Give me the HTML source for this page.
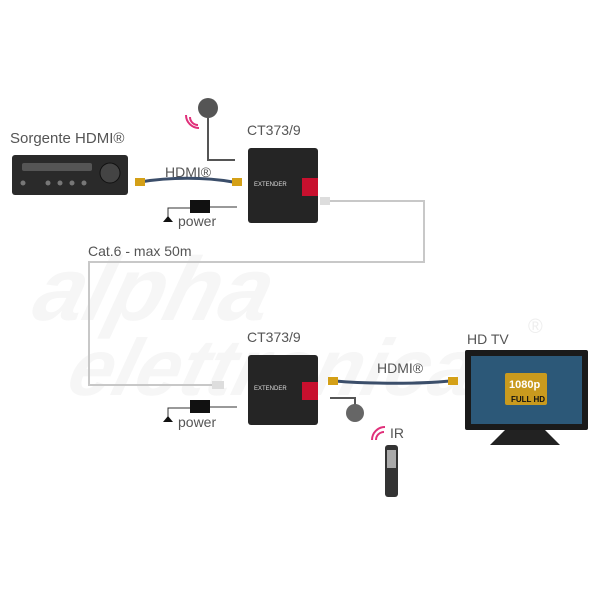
<!DOCTYPE html>
<html><head><style>body{margin:0;background:#fff}svg{display:block}</style></head><body>
<svg width="600" height="600" viewBox="0 0 600 600" font-family="Liberation Sans, sans-serif">
<rect width="600" height="600" fill="#fff"/>
<g fill="#f6f6f6" font-style="italic" font-weight="bold">
<text x="115" y="320" font-size="90" transform="skewX(-15)">alpha</text>
<text x="170" y="395" font-size="80" transform="skewX(-15)">elettronica</text>
</g>
<!-- cat6 loop -->
<polyline points="330,201 424,201 424,262 89,262 89,385 215,385" fill="none" stroke="#c8c8c8" stroke-width="2"/>
<text x="88" y="256" font-size="14" fill="#555">Cat.6 - max 50m</text>
<!-- source -->
<text x="10" y="143" font-size="15" fill="#555">Sorgente HDMI®</text>
<rect x="12" y="155" width="116" height="40" rx="3" fill="#2a2a2a"/>
<rect x="22" y="163" width="70" height="8" rx="2" fill="#555"/>
<circle cx="110" cy="173" r="10" fill="#444" stroke="#111"/>
<g fill="#777"><circle cx="23" cy="183" r="2.5"/><circle cx="48" cy="183" r="2.5"/><circle cx="60" cy="183" r="2.5"/><circle cx="72" cy="183" r="2.5"/><circle cx="84" cy="183" r="2.5"/></g>
<!-- top hdmi -->
<text x="165" y="177" font-size="14" fill="#555">HDMI®</text>
<path d="M140,182 C170,177 205,177 233,182" stroke="#3b4e6a" stroke-width="3" fill="none"/>
<rect x="135" y="178" width="10" height="8" fill="#d4a017"/><rect x="232" y="178" width="10" height="8" fill="#d4a017"/>
<!-- top mic -->
<circle cx="208" cy="108" r="10" fill="#555"/>
<polyline points="208,118 208,160 235,160" fill="none" stroke="#555" stroke-width="2"/>
<path d="M190,117 a8,8 0 0 0 8,8 M186,115 a13,13 0 0 0 13,13" stroke="#e0307a" stroke-width="2" fill="none"/>
<!-- top power -->
<rect x="190" y="200" width="20" height="13" fill="#111"/>
<polyline points="168,218 168,208 190,208" fill="none" stroke="#333"/><line x1="210" y1="207" x2="237" y2="207" stroke="#333"/>
<path d="M163,222 l5,-6 l5,6z" fill="#111"/>
<text x="178" y="226" font-size="14" fill="#555">power</text>
<!-- top box -->
<text x="247" y="135" font-size="14" fill="#555">CT373/9</text>
<rect x="248" y="148" width="70" height="75" rx="3" fill="#252525"/>
<text x="254" y="186" font-size="6" fill="#ddd">EXTENDER</text>
<rect x="302" y="178" width="16" height="18" fill="#c8102e"/>
<rect x="320" y="197" width="10" height="8" fill="#ddd"/>
<!-- bottom box -->
<text x="247" y="342" font-size="14" fill="#555">CT373/9</text>
<rect x="248" y="355" width="70" height="70" rx="3" fill="#252525"/>
<text x="254" y="390" font-size="6" fill="#ddd">EXTENDER</text>
<rect x="302" y="382" width="16" height="18" fill="#c8102e"/>
<rect x="212" y="381" width="12" height="8" fill="#ddd"/>
<!-- bottom hdmi -->
<text x="377" y="373" font-size="14" fill="#555">HDMI®</text>
<path d="M335,381 C370,384 420,384 450,381" stroke="#3b4e6a" stroke-width="3" fill="none"/>
<rect x="328" y="377" width="10" height="8" fill="#d4a017"/><rect x="448" y="377" width="10" height="8" fill="#d4a017"/>
<!-- bottom mic -->
<polyline points="330,398 355,398 355,405" fill="none" stroke="#555" stroke-width="2"/>
<circle cx="355" cy="413" r="9" fill="#666"/>
<!-- bottom power -->
<rect x="190" y="400" width="20" height="13" fill="#111"/>
<polyline points="168,418 168,408 190,408" fill="none" stroke="#333"/><line x1="210" y1="407" x2="237" y2="407" stroke="#333"/>
<path d="M163,422 l5,-6 l5,6z" fill="#111"/>
<text x="178" y="427" font-size="14" fill="#555">power</text>
<!-- IR remote -->
<text x="390" y="438" font-size="14" fill="#555">IR</text>
<path d="M376,440 a8,8 0 0 1 8,-8 M372,440 a13,13 0 0 1 13,-13" stroke="#e0307a" stroke-width="2" fill="none"/>
<rect x="385" y="445" width="13" height="52" rx="3" fill="#333"/>
<rect x="387" y="450" width="9" height="18" fill="#aaa"/>
<!-- TV -->
<text x="467" y="344" font-size="14" fill="#555">HD TV</text>
<rect x="465" y="350" width="123" height="80" rx="2" fill="#1a1a1a"/>
<rect x="471" y="356" width="111" height="68" fill="#2c5878"/>
<rect x="505" y="373" width="42" height="32" rx="2" fill="#c99a1e"/>
<text x="509" y="388" font-size="11" font-weight="bold" fill="#fff">1080p</text>
<text x="511" y="402" font-size="8" font-weight="bold" fill="#111">FULL HD</text>
<path d="M505,430 h40 l15,15 h-70z" fill="#222"/>
<text x="528" y="333" font-size="20" fill="#eee">®</text>
</svg>
</body></html>
